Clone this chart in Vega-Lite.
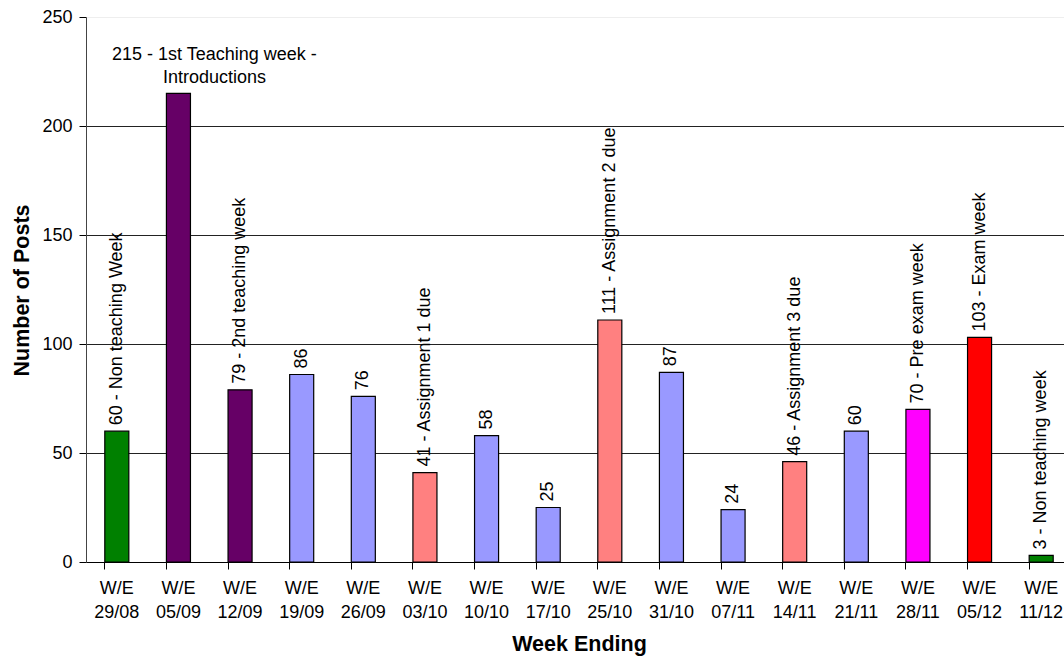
{
  "$schema": "https://vega.github.io/schema/vega-lite/v6.json",
  "autosize": {"type": "none"},
  "padding": {"left": 86, "top": 17, "right": 0, "bottom": 95},
  "width": 986,
  "height": 545,
  "background": "white",
  "config": {
    "view": {"stroke": null},
    "font": "Liberation Sans"
  },
  "data": {
    "values": [
      {"week": "29/08", "posts": 60, "label": "60 - Non teaching Week", "type": "Non teaching"},
      {"week": "05/09", "posts": 215, "label": "215 - 1st Teaching week -\nIntroductions", "type": "Teaching start"},
      {"week": "12/09", "posts": 79, "label": "79 - 2nd teaching week", "type": "Teaching start"},
      {"week": "19/09", "posts": 86, "label": "86", "type": "Regular"},
      {"week": "26/09", "posts": 76, "label": "76", "type": "Regular"},
      {"week": "03/10", "posts": 41, "label": "41 - Assignment 1 due", "type": "Assignment"},
      {"week": "10/10", "posts": 58, "label": "58", "type": "Regular"},
      {"week": "17/10", "posts": 25, "label": "25", "type": "Regular"},
      {"week": "25/10", "posts": 111, "label": "111 - Assignment 2 due", "type": "Assignment"},
      {"week": "31/10", "posts": 87, "label": "87", "type": "Regular"},
      {"week": "07/11", "posts": 24, "label": "24", "type": "Regular"},
      {"week": "14/11", "posts": 46, "label": "46 - Assignment 3 due", "type": "Assignment"},
      {"week": "21/11", "posts": 60, "label": "60", "type": "Regular"},
      {"week": "28/11", "posts": 70, "label": "70 - Pre exam week", "type": "Pre exam"},
      {"week": "05/12", "posts": 103, "label": "103 - Exam week", "type": "Exam"},
      {"week": "11/12", "posts": 3, "label": "3 - Non teaching week", "type": "Non teaching"}
    ]
  },
  "encoding": {
    "x": {
      "field": "week",
      "type": "nominal",
      "sort": null,
      "scale": {"paddingInner": 0.61, "paddingOuter": 0.305},
      "axis": {
        "title": "Week Ending",
        "titleFont": "Liberation Sans",
        "titleFontSize": 21.5,
        "titleFontWeight": "bold",
        "titleColor": "black",
        "titleY": 82,
        "titleBaseline": "middle",
        "labelExpr": "['W/E', datum.label]",
        "labelAngle": 0,
        "labelFontSize": 18,
        "labelColor": "black",
        "labelLineHeight": 24,
        "labelPadding": 10,
        "labelBaseline": "top",
        "bandPosition": 0,
        "tickSize": 7,
        "tickColor": "black",
        "domainColor": "black",
        "grid": false
      }
    },
    "y": {
      "field": "posts",
      "type": "quantitative",
      "scale": {"domain": [0, 250], "nice": false},
      "axis": {
        "title": "Number of Posts",
        "titleFontSize": 21.5,
        "titleFontWeight": "bold",
        "titleColor": "black",
        "titleX": -64,
        "titleY": 273,
        "titleAngle": -90,
        "titleAlign": "center",
        "titleBaseline": "middle",
        "values": [0, 50, 100, 150, 200, 250],
        "labelFontSize": 18,
        "labelColor": "black",
        "labelPadding": 7,
        "tickSize": 7,
        "tickColor": "black",
        "domainColor": "#444",
        "grid": true,
        "gridColor": {"condition": {"test": "datum.value == 250", "value": "#eeeeee"}, "value": "#222222"},
        "gridOpacity": 1
      }
    }
  },
  "layer": [
    {
      "mark": {"type": "bar", "stroke": "black", "strokeWidth": 1.2},
      "encoding": {
        "color": {
          "field": "type",
          "type": "nominal",
          "scale": {
            "domain": ["Non teaching", "Teaching start", "Regular", "Assignment", "Pre exam", "Exam"],
            "range": ["#008000", "#660066", "#9999FF", "#FF8080", "#FF00FF", "#FF0000"]
          },
          "legend": null
        }
      }
    },
    {
      "transform": [{"filter": "datum.posts != 215"}],
      "mark": {"type": "text", "angle": 270, "align": "left", "baseline": "middle", "dx": 6, "fontSize": 18, "color": "black"},
      "encoding": {"text": {"field": "label"}}
    },
    {
      "transform": [{"filter": "datum.posts == 215"}],
      "mark": {"type": "text", "align": "center", "baseline": "bottom", "dx": 36, "dy": -29, "lineBreak": "\n", "lineHeight": 23, "fontSize": 18, "color": "black"},
      "encoding": {"text": {"field": "label"}}
    }
  ]
}
